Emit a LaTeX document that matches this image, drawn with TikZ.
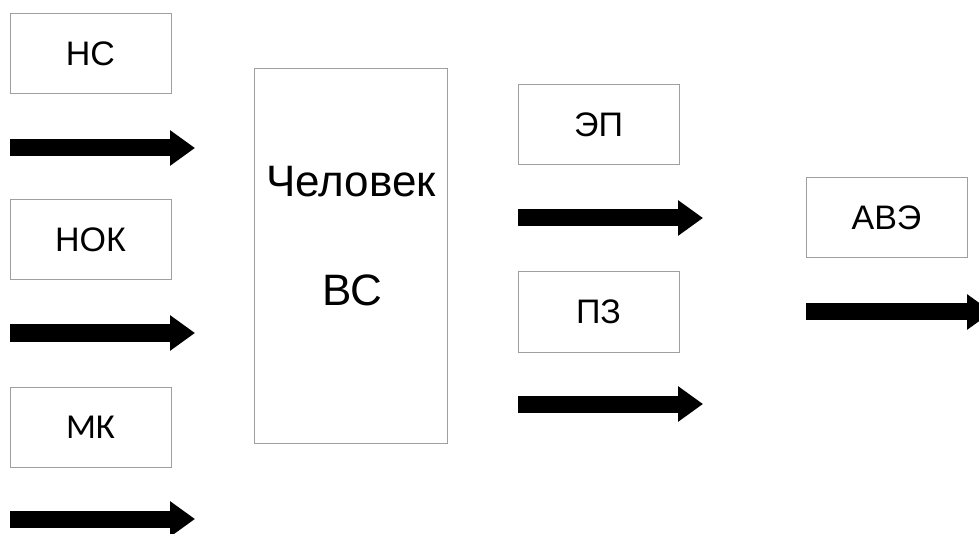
\documentclass[tikz,border=0pt]{standalone}
\usepackage{fontspec}
\setmainfont{Liberation Sans}
\newfontfamily\calfont{Carlito}
\usetikzlibrary{arrows.meta}

\tikzset{
  blk/.style={draw=gray!75, line width=1pt, minimum width=161pt, minimum height=80pt, inner sep=0pt, font=\fontsize{34}{40}\selectfont},
  big/.style={font=\fontsize{44}{50}\selectfont},
  flow/.style={line width=17pt, -{Triangle[length=25pt,width=34pt]}},
}

\begin{document}
\begin{tikzpicture}[x=1pt,y=-1pt]
        \clip (0,0) rectangle (979,534);

        % Inputs
        \node[blk] (ns) at (90.5,54) {НС};
        \coordinate (ns1) at (10,148);
        \coordinate (ns2) at (195,148);
        \draw[flow] (ns1) -- (ns2);

        \node[blk] (nok) at (90.5,240) {НОК};
        \coordinate (nok1) at (10,333);
        \coordinate (nok2) at (195,333);
        \draw[flow] (nok1) -- (nok2);

        \node[blk, font=\calfont\fontsize{35}{40}\selectfont] (mk) at (90.5,427.5) {МК};
        \coordinate (mk1) at (10,519);
        \coordinate (mk2) at (195,519);
        \draw[flow] (mk1) -- (mk2);

        % Person
        \node[draw=gray!75, line width=1pt, minimum width=193pt, minimum height=374pt] (man) at (350.5,256) {};
        \node[big] (chel) at (351,182) {Человек};
        \node[big] (vs) at (352,290) {ВС};

        % Outputs
        \node[blk] (ep) at (598.5,125) {ЭП};
        \coordinate (ep1) at (518,218);
        \coordinate (ep2) at (703,218);
        \draw[flow] (ep1) -- (ep2);

        \node[blk] (pz) at (598.5,312) {ПЗ};
        \coordinate (pz1) at (518,404);
        \coordinate (pz2) at (703,404);
        \draw[flow] (pz1) -- (pz2);

        % Result
        \node[blk] (ave) at (886.5,218) {АВЭ};
        \coordinate (ave1) at (806,312);
        \coordinate (ave2) at (992,312);
        \draw[flow] (ave1) -- (ave2);
\end{tikzpicture}
\end{document}
